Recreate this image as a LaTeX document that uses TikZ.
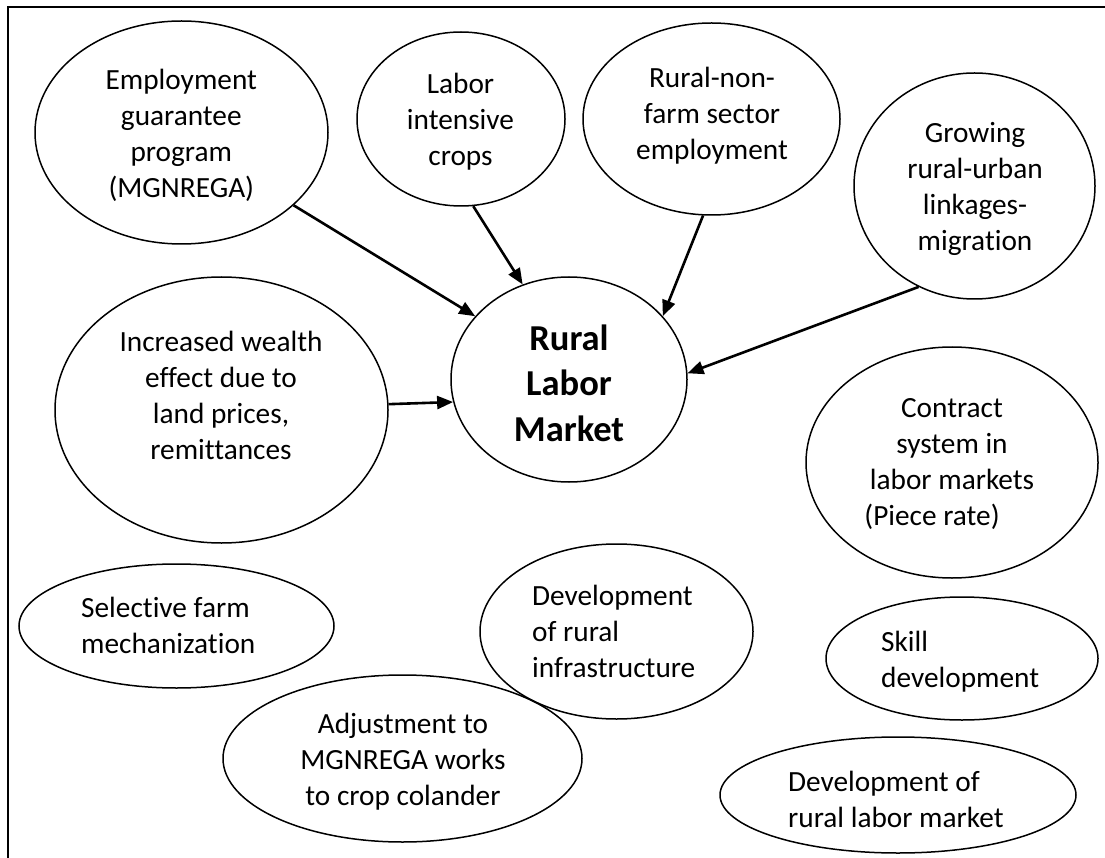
\documentclass[tikz,border=0pt]{standalone}
\usepackage{fontspec}
\setmainfont{Carlito}[Ligatures={NoCommon}]
\usetikzlibrary{shapes.geometric,arrows.meta}
% invisible struts fixing the height of the first line of each label
\newcommand{\firstline}{\rule{0pt}{26pt}}
\newcommand{\firstbold}{\rule{0pt}{32pt}}
\begin{document}
\begin{tikzpicture}[x=1pt,y=-1pt,
  oval/.style={draw=black,ellipse,line width=1.5pt,inner sep=0pt},
  size/.style 2 args={minimum width=#1pt,minimum height=#2pt},
  label text/.style={inner sep=0pt,font=\fontsize{29.3}{36}\selectfont,align=center,anchor=north},
  left text/.style={label text,align=left,anchor=north west},
  hub text/.style={inner sep=0pt,font=\fontsize{36.5}{45.5}\selectfont\bfseries,align=center,anchor=north},
  link/.style={line width=2.6pt,-{Triangle[length=16pt,width=13pt]}},
  frame/.style={line width=2pt,line cap=rect}]

% page and frame (open at the right and bottom)
\fill[white] (0,0) rectangle (1105,858);
\useasboundingbox (0,0) rectangle (1105,858);
\draw[frame] (8,860) -- (8,7) -- (1107,7);

% ovals
\node[oval,size={293}{223}] (emp)  at (181.5,132.5) {};
\node[oval,size={208}{174}] (lab)  at (461,119) {};
\node[oval,size={257}{192}] (rnf)  at (711.5,119) {};
\node[oval,size={241}{226}] (grow) at (974.5,186) {};
\node[oval,size={236}{205}] (rlm)  at (569,379.5) {};
\node[oval,size={333}{266}] (inc)  at (221.5,410) {};
\node[oval,size={292}{231}] (con)  at (952,462.5) {};
\node[oval,size={315}{124}] (sel)  at (176.5,626) {};
\node[oval,size={273}{175}] (inf)  at (616.5,631.5) {};
\node[oval,size={359}{167}] (adj)  at (402.5,758.5) {};
\node[oval,size={272}{123}] (ski)  at (962,658.5) {};
\node[oval,size={356}{116}] (dlm)  at (898,795) {};

% labels (first baseline minus strut height)
\node[label text] (empT)  at (181.3,63)  {\firstline Employment\\guarantee\\program\\(MGNREGA)};
\node[label text] (labT)  at (460.5,67)  {\firstline Labor\\intensive\\crops};
\node[label text] (rnfT)  at (712,61)    {\firstline Rural-non-\\farm sector\\employment};
\node[label text] (growT) at (975,116)   {\firstline Growing\\rural-urban\\linkages-\\migration};
\node[hub text]   (rlmT)  at (569,318)   {\firstbold Rural\\Labor\\Market};
\node[label text] (incT)  at (221,325)   {\firstline Increased wealth\\effect due to\\land prices,\\remittances};
\node[label text] (conT)  at (952,391)   {\firstline Contract\\system in\\labor markets\\(Piece rate)\rule{40pt}{0pt}};
\node[left text]  (selT)  at (81,591)    {\firstline Selective farm\\mechanization};
\node[left text]  (infT)  at (532,579)   {\firstline Development\\of rural\\infrastructure};
\node[label text] (adjT)  at (403,707)   {\firstline Adjustment to\\MGNREGA works\\to crop colander};
\node[left text]  (skiT)  at (881,625)   {\firstline Skill\\development};
\node[left text]  (dlmT)  at (788,765)   {\firstline Development of\\rural labor market};

% influences on the rural labor market
\draw[link] (emp.-33.4) -- (rlm.146.1);
\draw[link] (lab.-82.8) -- (rlm.116.4);
\draw[link] (rnf.-95)   -- (rlm.34.1);
\draw[link] (grow.-119.1) -- (rlm.3.1);
\draw[link] (inc.2.4)   -- (rlm.191.2);
\end{tikzpicture}
\end{document}
